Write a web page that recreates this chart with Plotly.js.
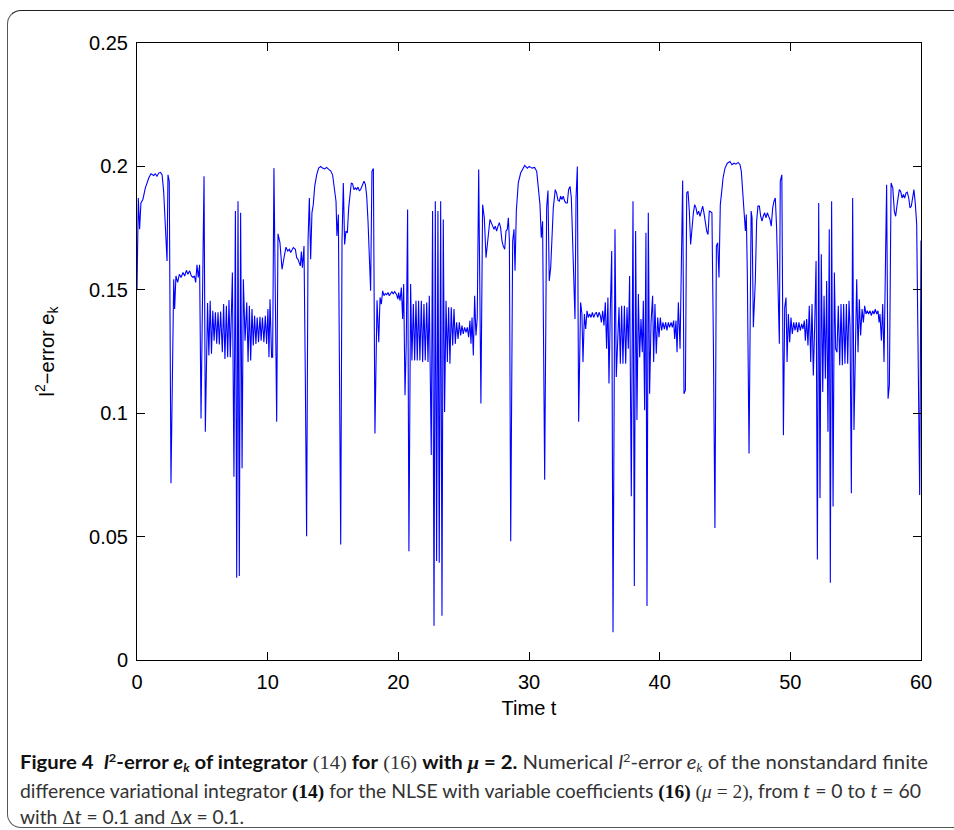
<!DOCTYPE html>
<html>
<head>
<meta charset="utf-8">
<script src="https://cdn.plot.ly/plotly-3.0.1.min.js"></script>
<style>
  html, body { margin:0; padding:0; background:#fff; width:954px; height:830px; overflow:hidden; }
  #frame { position:absolute; left:7px; top:10px; width:1000px; height:818px; border:1.5px solid #555; border-top-color:#222; border-radius:14px; box-sizing:border-box; }
  #chart { position:absolute; left:0; top:0; width:954px; height:830px; }
  #caption { position:absolute; left:20px; top:746px; font-family:Lato,"Open Sans","Noto Sans",sans-serif; font-size:19px; color:#333; }
  #caption .ln { position:absolute; left:0; white-space:nowrap; transform-origin:0 0; line-height:20px; }
  #caption b { color:#111; }
  .sr { font-family:"Liberation Serif","DejaVu Serif",serif; font-size:19px; }
  .sp { font-size:12px; line-height:0; vertical-align:7px; }
  .sb { font-size:12px; line-height:0; vertical-align:-3px; }
</style>
</head>
<body>
<div id="frame"></div>
<div id="chart"></div>
<div id="caption">
  <div class="ln" id="l1" data-w="908" style="top:6px"><b>Figure 4</b>&nbsp; <b><i>l</i><span class="sp">2</span>-error <i>e<span class="sb">k</span></i> of integrator</b> <span class="sr">(14)</span> <b>for</b> <span class="sr">(16)</span> <b>with <i class="sr">μ</i> = 2.</b> Numerical <i>l</i><span class="sp">2</span>-error <i>e<span class="sb">k</span></i> of the nonstandard finite</div>
  <div class="ln" id="l2" data-w="901" style="top:35px">difference variational integrator <b class="sr">(14)</b> for the NLSE with variable coefficients <b class="sr">(16)</b> <span class="sr">(<i>μ</i> = 2)</span>, from <i>t</i> = 0 to <i>t</i> = 60</div>
  <div class="ln" id="l3" data-w="224" style="top:61px">with <span class="sr">Δ</span><i>t</i> = 0.1 and <span class="sr">Δ</span><i>x</i> = 0.1.</div>
</div>
<script>
// time samples (t) and l2-error values (e_k)
const timeT = [
  0, 0.1, 0.2, 0.3, 0.45, 0.64, 0.9, 1.07, 1.28, 1.4, 1.53, 1.66, 1.79, 1.92, 2.04, 2.17, 2.3, 2.37, 2.47, 2.6,
  2.81, 2.88, 2.98, 3.11, 3.24, 3.37, 3.52, 3.65, 3.78, 3.9, 4.03, 4.16, 4.29, 4.39, 4.49, 4.59, 4.69, 4.79, 4.9, 5.13,
  5.23, 5.4, 5.5, 5.6, 5.7, 5.8, 5.9, 6.0, 6.1, 6.2, 6.3, 6.4, 6.53, 6.63, 6.73, 6.84, 6.94, 7.04, 7.14, 7.3,
  7.42, 7.53, 7.63, 7.73, 7.83, 7.93, 8.04, 8.14, 8.27, 8.4, 8.5, 8.6, 8.7, 8.8, 8.9, 9.0, 9.1, 9.2, 9.3, 9.41,
  9.5, 9.6, 9.71, 9.82, 9.92, 10.02, 10.1, 10.18, 10.3, 10.38, 10.48, 10.69, 10.79, 10.94, 11.1, 11.25, 11.4, 11.53, 11.66, 11.76,
  11.86, 11.96, 12.12, 12.22, 12.32, 12.42, 12.5, 12.58, 12.66, 12.73, 12.78, 12.88, 12.98, 13.09, 13.19, 13.29, 13.39, 13.49, 13.6, 13.75,
  13.9, 14.06, 14.2, 14.36, 14.51, 14.67, 14.82, 14.97, 15.07, 15.23, 15.3, 15.41, 15.59, 15.69, 15.79, 15.89, 15.99, 16.1, 16.2, 16.3,
  16.4, 16.5, 16.6, 16.71, 16.81, 16.91, 17.01, 17.11, 17.27, 17.37, 17.48, 17.58, 17.68, 17.78, 17.88, 17.98, 18.09, 18.21, 18.37, 18.5,
  18.6, 18.7, 18.8, 18.9, 19.0, 19.11, 19.21, 19.31, 19.41, 19.51, 19.61, 19.72, 19.87, 19.97, 20.02, 20.13, 20.23, 20.33, 20.41, 20.51,
  20.61, 20.71, 20.81, 20.94, 21.04, 21.15, 21.25, 21.35, 21.45, 21.55, 21.65, 21.76, 21.86, 21.96, 22.06, 22.17, 22.27, 22.37, 22.52, 22.62,
  22.73, 22.83, 22.93, 23.03, 23.13, 23.24, 23.34, 23.44, 23.54, 23.65, 23.75, 23.85, 23.95, 24.05, 24.16, 24.26, 24.36, 24.46, 24.57, 24.67,
  24.77, 24.87, 24.97, 25.07, 25.18, 25.28, 25.38, 25.48, 25.56, 25.64, 25.74, 25.84, 25.94, 26.04, 26.15, 26.32, 26.45, 26.58, 26.71, 26.86,
  27.01, 27.17, 27.32, 27.42, 27.52, 27.63, 27.73, 27.83, 27.93, 28.03, 28.14, 28.24, 28.34, 28.42, 28.5, 28.6, 28.75, 28.85, 28.93, 29.03,
  29.18, 29.36, 29.56, 29.67, 29.87, 30.02, 30.23, 30.43, 30.59, 30.71, 30.84, 30.94, 31.04, 31.2, 31.35, 31.45, 31.55, 31.66, 31.76, 31.86,
  32.01, 32.11, 32.22, 32.32, 32.42, 32.52, 32.62, 32.73, 32.83, 32.93, 33.03, 33.14, 33.24, 33.34, 33.44, 33.52, 33.6, 33.7, 33.8, 33.95,
  34.05, 34.13, 34.24, 34.34, 34.44, 34.54, 34.64, 34.75, 34.85, 34.95, 35.05, 35.15, 35.26, 35.36, 35.46, 35.54, 35.64, 35.74, 35.84, 35.94,
  36.04, 36.12, 36.22, 36.33, 36.43, 36.58, 36.68, 36.78, 36.89, 36.99, 37.09, 37.19, 37.3, 37.4, 37.5, 37.6, 37.7, 37.83, 37.96, 38.06,
  38.16, 38.26, 38.37, 38.47, 38.57, 38.67, 38.75, 38.85, 38.95, 39.03, 39.13, 39.23, 39.34, 39.46, 39.54, 39.64, 39.74, 39.85, 39.95, 40.05,
  40.15, 40.25, 40.36, 40.46, 40.56, 40.66, 40.76, 40.87, 40.97, 41.07, 41.15, 41.25, 41.33, 41.43, 41.56, 41.76, 41.86, 41.97, 42.07, 42.17,
  42.27, 42.37, 42.47, 42.58, 42.68, 42.78, 42.88, 42.98, 43.09, 43.19, 43.29, 43.39, 43.49, 43.6, 43.7, 43.8, 43.9, 44.0, 44.11, 44.23,
  44.34, 44.44, 44.54, 44.64, 44.75, 44.85, 45.0, 45.18, 45.38, 45.53, 45.69, 45.84, 46.0, 46.15, 46.25, 46.35, 46.46, 46.56, 46.63, 46.71,
  46.84, 47.0, 47.07, 47.17, 47.32, 47.42, 47.52, 47.63, 47.73, 47.83, 47.93, 48.03, 48.14, 48.24, 48.34, 48.44, 48.54, 48.65, 48.75, 48.85,
  48.95, 49.06, 49.16, 49.23, 49.35, 49.47, 49.57, 49.67, 49.75, 49.85, 49.95, 50.05, 50.15, 50.26, 50.36, 50.46, 50.56, 50.66, 50.76, 50.87,
  50.97, 51.07, 51.15, 51.25, 51.35, 51.45, 51.56, 51.66, 51.76, 51.86, 51.97, 52.07, 52.17, 52.27, 52.37, 52.48, 52.58, 52.68, 52.78, 52.88,
  52.98, 53.06, 53.16, 53.27, 53.37, 53.47, 53.57, 53.67, 53.78, 53.88, 53.98, 54.08, 54.18, 54.29, 54.39, 54.49, 54.57, 54.67, 54.77, 54.87,
  54.97, 55.08, 55.18, 55.28, 55.38, 55.49, 55.59, 55.69, 55.79, 55.89, 55.99, 56.1, 56.2, 56.3, 56.4, 56.5, 56.61, 56.71, 56.79, 56.86,
  56.97, 57.07, 57.17, 57.27, 57.37, 57.48, 57.58, 57.71, 57.84, 57.96, 58.06, 58.19, 58.34, 58.44, 58.55, 58.65, 58.75, 58.85, 58.95, 59.06,
  59.16, 59.26, 59.36, 59.46, 59.57, 59.67, 59.74, 59.82, 59.9, 60.0
];
const errorEk = [
  0.150, 0.1872, 0.1745, 0.1852, 0.1866, 0.1913, 0.1953, 0.1970, 0.1963, 0.1970, 0.1960, 0.1973, 0.1976, 0.1966, 0.1899, 0.1778, 0.1617, 0.1966, 0.1940, 0.0716,
  0.1543, 0.1422, 0.1556, 0.1530, 0.1563, 0.1550, 0.1570, 0.1556, 0.1579, 0.1563, 0.1577, 0.1556, 0.1550, 0.1556, 0.1530, 0.1601, 0.1550, 0.1601, 0.0979, 0.1960,
  0.0925, 0.1446, 0.1234, 0.1456, 0.1241, 0.1415, 0.1294, 0.1409, 0.1281, 0.1409, 0.1278, 0.1412, 0.1247, 0.1442, 0.1220, 0.1435, 0.1227, 0.1459, 0.1227, 0.1570,
  0.0743, 0.1819, 0.0333, 0.1859, 0.0340, 0.1812, 0.0777, 0.1543, 0.1294, 0.1449, 0.1207, 0.1435, 0.1214, 0.1422, 0.1274, 0.1395, 0.1281, 0.1388, 0.1288, 0.1391,
  0.1294, 0.1388, 0.1288, 0.1395, 0.1281, 0.1422, 0.1227, 0.1462, 0.1227, 0.1227, 0.1993, 0.0965, 0.1727, 0.1691, 0.1583, 0.1630, 0.1673, 0.1657, 0.1664, 0.1651,
  0.1664, 0.1671, 0.1664, 0.1630, 0.1624, 0.1610, 0.1597, 0.1655, 0.1590, 0.1637, 0.1677, 0.1160, 0.0501, 0.1698, 0.1872, 0.1624, 0.1812, 0.1845, 0.1919, 0.1966,
  0.1993, 0.2000, 0.1993, 0.1990, 0.1996, 0.1988, 0.1982, 0.1966, 0.1926, 0.1859, 0.1718, 0.1805, 0.0468, 0.1698, 0.1933, 0.1684, 0.1738, 0.1731, 0.1832, 0.1899,
  0.1933, 0.1929, 0.1906, 0.1913, 0.1906, 0.1916, 0.1902, 0.1906, 0.1926, 0.1940, 0.1926, 0.1879, 0.1778, 0.1617, 0.1496, 0.1980, 0.1991, 0.0918, 0.1458, 0.1288,
  0.1469, 0.1442, 0.1496, 0.1476, 0.1485, 0.1480, 0.1489, 0.1476, 0.1485, 0.1493, 0.1483, 0.1493, 0.1480, 0.1462, 0.1489, 0.1456, 0.1509, 0.1382, 0.1523, 0.1073,
  0.1294, 0.1825, 0.0441, 0.1523, 0.1214, 0.1442, 0.1214, 0.1456, 0.1214, 0.1456, 0.1214, 0.1456, 0.1207, 0.1442, 0.1214, 0.1449, 0.1207, 0.1476, 0.0831, 0.1819,
  0.0139, 0.1859, 0.0401, 0.1819, 0.0394, 0.1859, 0.0179, 0.1785, 0.1005, 0.1456, 0.1207, 0.1429, 0.1200, 0.1429, 0.1274, 0.1422, 0.1281, 0.1368, 0.1301, 0.1368,
  0.1315, 0.1355, 0.1321, 0.1348, 0.1328, 0.1348, 0.1308, 0.1375, 0.1281, 0.1388, 0.1234, 0.1476, 0.1315, 0.1388, 0.1987, 0.1039, 0.1845, 0.1792, 0.1630, 0.1711,
  0.1785, 0.1765, 0.1745, 0.1758, 0.1738, 0.1758, 0.1772, 0.1751, 0.1698, 0.1677, 0.1664, 0.1738, 0.1745, 0.1792, 0.1698, 0.0481, 0.1698, 0.1745, 0.1577, 0.1819,
  0.1933, 0.1973, 0.1996, 0.2004, 0.1993, 0.2000, 0.1993, 0.1996, 0.1980, 0.1926, 0.1845, 0.1711, 0.1778, 0.0730, 0.1832, 0.1902, 0.1536, 0.1590, 0.1724, 0.1832,
  0.1906, 0.1892, 0.1862, 0.1859, 0.1879, 0.1866, 0.1879, 0.1859, 0.1852, 0.1852, 0.1906, 0.1919, 0.1872, 0.1657, 0.1496, 0.1382, 0.1872, 0.2000, 0.0965, 0.1449,
  0.1402, 0.1207, 0.1402, 0.1341, 0.1415, 0.1388, 0.1402, 0.1388, 0.1409, 0.1388, 0.1402, 0.1409, 0.1388, 0.1409, 0.1395, 0.1368, 0.1415, 0.1355, 0.1449, 0.1261,
  0.1469, 0.1120, 0.1409, 0.1657, 0.0112, 0.1745, 0.1147, 0.1294, 0.1429, 0.1200, 0.1435, 0.1200, 0.1435, 0.1200, 0.1429, 0.1261, 0.1556, 0.0663, 0.1859, 0.0300,
  0.1738, 0.0972, 0.1483, 0.1227, 0.1382, 0.1247, 0.1456, 0.1012, 0.1731, 0.0219, 0.1812, 0.1079, 0.1368, 0.1476, 0.1207, 0.1442, 0.1241, 0.1388, 0.1308, 0.1388,
  0.1335, 0.1368, 0.1341, 0.1368, 0.1335, 0.1368, 0.1348, 0.1368, 0.1348, 0.1375, 0.1301, 0.1375, 0.1247, 0.1449, 0.1261, 0.1943, 0.1079, 0.1093, 0.1892, 0.1899,
  0.1819, 0.1684, 0.1751, 0.1812, 0.1845, 0.1832, 0.1805, 0.1819, 0.1798, 0.1819, 0.1839, 0.1812, 0.1778, 0.1738, 0.1724, 0.1819, 0.1816, 0.1812, 0.1294, 0.0535,
  0.1677, 0.1691, 0.1550, 0.1845, 0.1899, 0.1953, 0.1993, 0.2013, 0.2020, 0.2007, 0.2013, 0.2009, 0.2016, 0.2007, 0.1980, 0.1899, 0.1819, 0.1738, 0.1805, 0.1563,
  0.0837, 0.1819, 0.1792, 0.1348, 0.1536, 0.1778, 0.1839, 0.1839, 0.1798, 0.1778, 0.1798, 0.1812, 0.1792, 0.1812, 0.1798, 0.1785, 0.1758, 0.1832, 0.1859, 0.1872,
  0.1751, 0.1509, 0.1281, 0.1940, 0.1966, 0.0911, 0.1429, 0.1469, 0.1207, 0.1402, 0.1288, 0.1388, 0.1321, 0.1368, 0.1335, 0.1368, 0.1328, 0.1368, 0.1335, 0.1362,
  0.1341, 0.1375, 0.1294, 0.1382, 0.1274, 0.1435, 0.1207, 0.1442, 0.1153, 0.1348, 0.1617, 0.0407, 0.1852, 0.0656, 0.1644, 0.1086, 0.1476, 0.1140, 0.1536, 0.0925,
  0.1745, 0.0313, 0.1859, 0.0622, 0.1570, 0.1261, 0.1247, 0.1435, 0.1194, 0.1442, 0.1194, 0.1442, 0.1200, 0.1442, 0.1200, 0.1456, 0.1348, 0.0676, 0.1872, 0.0932,
  0.1294, 0.1543, 0.1247, 0.1462, 0.1315, 0.1422, 0.1368, 0.1435, 0.1402, 0.1415, 0.1402, 0.1415, 0.1395, 0.1415, 0.1402, 0.1422, 0.1402, 0.1415, 0.1368, 0.1402,
  0.1294, 0.1442, 0.1207, 0.1563, 0.1926, 0.1059, 0.1113, 0.1933, 0.1913, 0.1819, 0.1798, 0.1852, 0.1906, 0.1899, 0.1872, 0.1886, 0.1872, 0.1892, 0.1896, 0.1872,
  0.1832, 0.1839, 0.1866, 0.1906, 0.1845, 0.1765, 0.1429, 0.0837, 0.0669, 0.1700
];
const xTickVals = [0, 10, 20, 30, 40, 50, 60];
const yTickVals = [0, 0.05, 0.1, 0.15, 0.2, 0.25];
const yTickText = ['0', '0.05', '0.1', '0.15', '0.2', '0.25'];

const axisFont = { family: 'Liberation Sans, Arial, Helvetica, sans-serif', size: 20, color: '#000' };
const common = {
  ticks: 'inside', ticklen: 8, tickwidth: 1, tickcolor: '#000',
  showline: true, linecolor: '#000', linewidth: 1, mirror: 'ticks',
  showgrid: false, zeroline: false, tickfont: axisFont, fixedrange: true
};

const trace = {
  x: timeT, y: errorEk, type: 'scatter', mode: 'lines',
  line: { color: '#0000ff', width: 1.1 }, hoverinfo: 'none'
};

const layout = {
  width: 954, height: 830,
  margin: { l: 137, r: 33, t: 43, b: 170 },
  paper_bgcolor: 'rgba(0,0,0,0)', plot_bgcolor: '#fff',
  showlegend: false,
  xaxis: Object.assign({}, common, {
    range: [0, 60], tickvals: xTickVals, ticklabelstandoff: 4,
    title: { text: 'Time t', font: axisFont, standoff: 8 }
  }),
  yaxis: Object.assign({}, common, {
    range: [0, 0.25], tickvals: yTickVals, ticktext: yTickText, ticklabelstandoff: 4,
    title: { text: 'l<sup>2</sup>\u2212error e<sub>k</sub>', font: axisFont, standoff: 29 }
  })
};

Plotly.newPlot('chart', [trace], layout, { staticPlot: true, displayModeBar: false }).then(() => {
  document.querySelectorAll('#caption .ln').forEach(el => {
    const target = parseFloat(el.dataset.w);
    const w = el.getBoundingClientRect().width;
    if (w > 0) el.style.transform = 'scaleX(' + (target / w) + ')';
  });
});
</script>
</body>
</html>
